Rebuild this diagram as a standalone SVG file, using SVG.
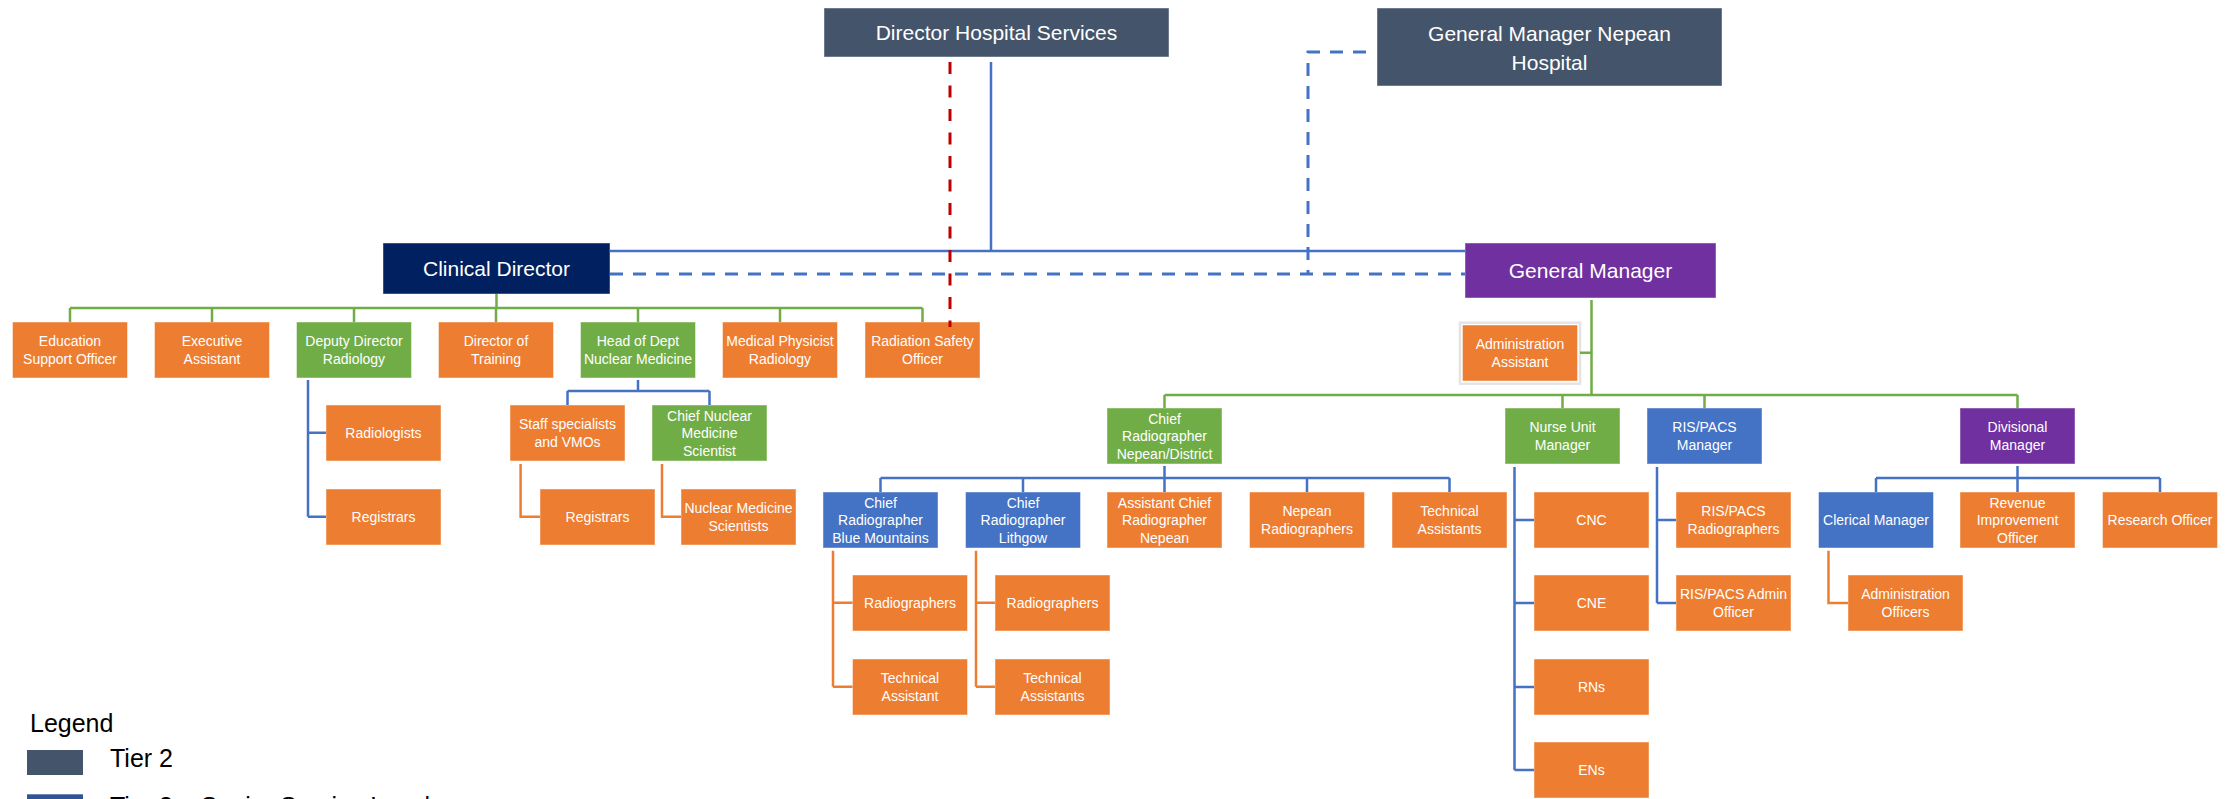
<svg xmlns="http://www.w3.org/2000/svg" width="2234" height="799" viewBox="0 0 2234 799">
<style>
rect.box{stroke:#ffffff;stroke-opacity:0.45;stroke-width:1}
.o{fill:#ED7D31}.g{fill:#70AD47}.b{fill:#4472C4}.p{fill:#7030A0}.n{fill:#002060}.s{fill:#44546A}
text{font-family:"Liberation Sans",Arial,sans-serif;fill:#ffffff;text-anchor:middle}
.t{font-size:14px}
.T{font-size:21px}
.lg{font-size:25px;fill:#000000;text-anchor:start}
.cb{fill:none;stroke:#4472C4;stroke-width:2.5}
.cg{fill:none;stroke:#70AD47;stroke-width:2.5}
.co{fill:none;stroke:#ED7D31;stroke-width:2.5}
.cd{fill:none;stroke:#4472C4;stroke-width:3;stroke-dasharray:13 10}
.cr{fill:none;stroke:#C00000;stroke-width:3;stroke-dasharray:12 11.5}
</style>
<rect width="2234" height="799" fill="#ffffff"/>
<g id="nodes">
<g id="dhs"><rect class="box s" x="824" y="8" width="345" height="49"/><text class="T" x="996.5" y="40">Director Hospital Services</text></g>
<g id="gmnh"><rect class="box s" x="1377" y="8" width="345" height="78"/><text class="T" x="1549.5"><tspan x="1549.5" y="40.5">General Manager Nepean</tspan><tspan x="1549.5" y="69.5">Hospital</tspan></text></g>
<g id="cd"><rect class="box n" x="383" y="243" width="227" height="51"/><text class="T" x="496.5" y="276">Clinical Director</text></g>
<g id="gm"><rect class="box p" x="1465" y="243" width="251" height="55"/><text class="T" x="1590.5" y="278">General Manager</text></g>

<g id="eso"><rect class="box o" x="12.5" y="322" width="115" height="56"/><text class="t"><tspan x="70" y="346.25">Education</tspan><tspan x="70" y="363.75">Support Officer</tspan></text></g>
<g id="ea"><rect class="box o" x="154.5" y="322" width="115" height="56"/><text class="t"><tspan x="212" y="346.25">Executive</tspan><tspan x="212" y="363.75">Assistant</tspan></text></g>
<g id="ddr"><rect class="box g" x="296.5" y="322" width="115" height="56"/><text class="t"><tspan x="354" y="346.25">Deputy Director</tspan><tspan x="354" y="363.75">Radiology</tspan></text></g>
<g id="dot"><rect class="box o" x="438.5" y="322" width="115" height="56"/><text class="t"><tspan x="496" y="346.25">Director of</tspan><tspan x="496" y="363.75">Training</tspan></text></g>
<g id="hod"><rect class="box g" x="580.5" y="322" width="115" height="56"/><text class="t"><tspan x="638" y="346.25">Head of Dept</tspan><tspan x="638" y="363.75">Nuclear Medicine</tspan></text></g>
<g id="mpr"><rect class="box o" x="722.5" y="322" width="115" height="56"/><text class="t"><tspan x="780" y="346.25">Medical Physicist</tspan><tspan x="780" y="363.75">Radiology</tspan></text></g>
<g id="rso"><rect class="box o" x="865" y="322" width="115" height="56"/><text class="t"><tspan x="922.5" y="346.25">Radiation Safety</tspan><tspan x="922.5" y="363.75">Officer</tspan></text></g>

<g id="radiologists"><rect class="box o" x="326" y="405" width="115" height="56"/><text class="t" x="383.5" y="438">Radiologists</text></g>
<g id="registrars1"><rect class="box o" x="326" y="489" width="115" height="56"/><text class="t" x="383.5" y="522">Registrars</text></g>
<g id="ssv"><rect class="box o" x="510" y="405" width="115" height="56"/><text class="t"><tspan x="567.5" y="429.25">Staff specialists</tspan><tspan x="567.5" y="446.75">and VMOs</tspan></text></g>
<g id="cnms"><rect class="box g" x="652" y="405" width="115" height="56"/><text class="t"><tspan x="709.5" y="420.5">Chief Nuclear</tspan><tspan x="709.5" y="438">Medicine</tspan><tspan x="709.5" y="455.5">Scientist</tspan></text></g>
<g id="registrars2"><rect class="box o" x="540" y="489" width="115" height="56"/><text class="t" x="597.5" y="522">Registrars</text></g>
<g id="nms"><rect class="box o" x="681" y="489" width="115" height="56"/><text class="t"><tspan x="738.5" y="513.25">Nuclear Medicine</tspan><tspan x="738.5" y="530.75">Scientists</tspan></text></g>

<g id="aa"><rect x="1460" y="322.7" width="120" height="61" fill="none" stroke="#E4E4E4" stroke-width="2.5"/><rect class="box o" x="1462.5" y="325" width="115" height="56"/><text class="t"><tspan x="1520" y="349.25">Administration</tspan><tspan x="1520" y="366.75">Assistant</tspan></text></g>

<g id="crnd"><rect class="box g" x="1107" y="408" width="115" height="56"/><text class="t"><tspan x="1164.5" y="423.5">Chief</tspan><tspan x="1164.5" y="441">Radiographer</tspan><tspan x="1164.5" y="458.5">Nepean/District</tspan></text></g>
<g id="num"><rect class="box g" x="1505" y="408" width="115" height="56"/><text class="t"><tspan x="1562.5" y="432.25">Nurse Unit</tspan><tspan x="1562.5" y="449.75">Manager</tspan></text></g>
<g id="rpm"><rect class="box b" x="1647" y="408" width="115" height="56"/><text class="t"><tspan x="1704.5" y="432.25">RIS/PACS</tspan><tspan x="1704.5" y="449.75">Manager</tspan></text></g>
<g id="dm"><rect class="box p" x="1960" y="408" width="115" height="56"/><text class="t"><tspan x="2017.5" y="432.25">Divisional</tspan><tspan x="2017.5" y="449.75">Manager</tspan></text></g>

<g id="crbm"><rect class="box b" x="823" y="492" width="115" height="56"/><text class="t"><tspan x="880.5" y="507.5">Chief</tspan><tspan x="880.5" y="525">Radiographer</tspan><tspan x="880.5" y="542.5">Blue Mountains</tspan></text></g>
<g id="crl"><rect class="box b" x="965.5" y="492" width="115" height="56"/><text class="t"><tspan x="1023" y="507.5">Chief</tspan><tspan x="1023" y="525">Radiographer</tspan><tspan x="1023" y="542.5">Lithgow</tspan></text></g>
<g id="acrn"><rect class="box o" x="1107" y="492" width="115" height="56"/><text class="t"><tspan x="1164.5" y="507.5">Assistant Chief</tspan><tspan x="1164.5" y="525">Radiographer</tspan><tspan x="1164.5" y="542.5">Nepean</tspan></text></g>
<g id="nr"><rect class="box o" x="1249.5" y="492" width="115" height="56"/><text class="t"><tspan x="1307" y="516.25">Nepean</tspan><tspan x="1307" y="533.75">Radiographers</tspan></text></g>
<g id="ta1"><rect class="box o" x="1392" y="492" width="115" height="56"/><text class="t"><tspan x="1449.5" y="516.25">Technical</tspan><tspan x="1449.5" y="533.75">Assistants</tspan></text></g>
<g id="cnc"><rect class="box o" x="1534" y="492" width="115" height="56"/><text class="t" x="1591.5" y="525">CNC</text></g>
<g id="rpr"><rect class="box o" x="1676" y="492" width="115" height="56"/><text class="t"><tspan x="1733.5" y="516.25">RIS/PACS</tspan><tspan x="1733.5" y="533.75">Radiographers</tspan></text></g>
<g id="clm"><rect class="box b" x="1818.5" y="492" width="115" height="56"/><text class="t" x="1876" y="525">Clerical Manager</text></g>
<g id="rio"><rect class="box o" x="1960" y="492" width="115" height="56"/><text class="t"><tspan x="2017.5" y="507.5">Revenue</tspan><tspan x="2017.5" y="525">Improvement</tspan><tspan x="2017.5" y="542.5">Officer</tspan></text></g>
<g id="ro"><rect class="box o" x="2102.5" y="492" width="115" height="56"/><text class="t" x="2160" y="525">Research Officer</text></g>

<g id="rad1"><rect class="box o" x="852.5" y="575" width="115" height="56"/><text class="t" x="910" y="608">Radiographers</text></g>
<g id="rad2"><rect class="box o" x="995" y="575" width="115" height="56"/><text class="t" x="1052.5" y="608">Radiographers</text></g>
<g id="cne"><rect class="box o" x="1534" y="575" width="115" height="56"/><text class="t" x="1591.5" y="608">CNE</text></g>
<g id="rpao"><rect class="box o" x="1676" y="575" width="115" height="56"/><text class="t"><tspan x="1733.5" y="599.25">RIS/PACS Admin</tspan><tspan x="1733.5" y="616.75">Officer</tspan></text></g>
<g id="ao"><rect class="box o" x="1848" y="575" width="115" height="56"/><text class="t"><tspan x="1905.5" y="599.25">Administration</tspan><tspan x="1905.5" y="616.75">Officers</tspan></text></g>

<g id="ta2"><rect class="box o" x="852.5" y="659" width="115" height="56"/><text class="t"><tspan x="910" y="683.25">Technical</tspan><tspan x="910" y="700.75">Assistant</tspan></text></g>
<g id="ta3"><rect class="box o" x="995" y="659" width="115" height="56"/><text class="t"><tspan x="1052.5" y="683.25">Technical</tspan><tspan x="1052.5" y="700.75">Assistants</tspan></text></g>
<g id="rns"><rect class="box o" x="1534" y="659" width="115" height="56"/><text class="t" x="1591.5" y="692">RNs</text></g>
<g id="ens"><rect class="box o" x="1534" y="742" width="115" height="56"/><text class="t" x="1591.5" y="775">ENs</text></g>
</g>

<g id="connectors">
<path class="cb" d="M991 62V251M610 251H1465"/>
<path class="cd" d="M610 274H1465"/>
<path class="cd" d="M1366 52H1308V274"/>
<path class="cr" d="M950 62V327"/>
<path class="cg" d="M496.5 294V308M70 308H922.5M70 308V322M212 308V322M354 308V322M496 308V322M638 308V322M780 308V322M922.5 308V322"/>
<path class="cg" d="M1591.5 300V395M1580 352.7H1591.5M1164.5 395H2017.5M1164.5 395V408M1562.5 395V408M1704.5 395V408M2017.5 395V408"/>
<path class="cb" d="M308 380V516.7M308 432.7H326M308 516.7H326"/>
<path class="cb" d="M638 380V391M567.5 391H709.5M567.5 391V405M709.5 391V405"/>
<path class="cb" d="M1164.5 466V478M880.5 478H1449.5M880.5 478V492M1023 478V492M1164.5 478V492M1307 478V492M1449.5 478V492"/>
<path class="cb" d="M1514.5 467V770M1514.5 520H1534M1514.5 603H1534M1514.5 687H1534M1514.5 770H1534"/>
<path class="cb" d="M1657 467V603M1657 520H1676M1657 603H1676"/>
<path class="cb" d="M2017.5 466V478M1876 478H2160M1876 478V492M2017.5 478V492M2160 478V492"/>
<path class="co" d="M520.6 464V516.7H540M662 464V516.7H681"/>
<path class="co" d="M833 550.7V686.7M833 602.7H852.5M833 686.7H852.5M976 550.7V686.7M976 602.7H995M976 686.7H995"/>
<path class="co" d="M1828.5 550.7V603H1848"/>
</g>

<g id="legend">
<text class="lg" x="30" y="732">Legend</text>
<rect x="27" y="750" width="56" height="25" fill="#44546A"/>
<text class="lg" x="110" y="766.5">Tier 2</text>
<rect x="27" y="794.3" width="56" height="10" fill="#2F5597"/>
<text class="lg" x="110" y="815">Tier 3 – Senior Service Level</text>
</g>
</svg>
